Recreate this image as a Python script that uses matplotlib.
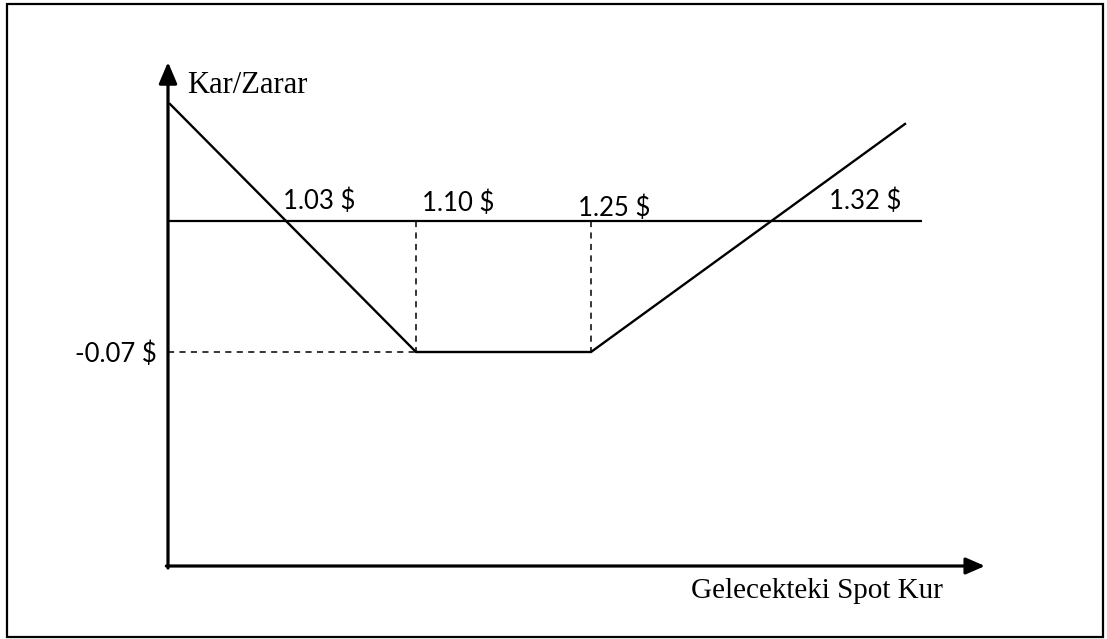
import numpy as np
import matplotlib
matplotlib.use("Agg")
import matplotlib.pyplot as plt
from matplotlib.patches import Rectangle

# kar/zarar profili (long strangle)
payoff_x = [0.968, 1.10, 1.25, 1.3714]
payoff_y = [0.062, -0.07, -0.07, 0.0514]
strikes = [1.10, 1.25]
breakevens = [1.03, 1.32]
max_loss = -0.07
strike_labels = ["1.10 $", "1.25 $"]
breakeven_labels = ["1.03 $", "1.32 $"]
loss_label = "-0.07 $"
y_title = "Kar/Zarar"
x_title = "Gelecekteki Spot Kur"

# the sketch is not drawn to scale on x: piecewise linear scale
scale_vals = [0.90, 0.968, 1.10, 1.25, 1.3714, 1.50]
scale_pos = [43.3, 170, 416, 591, 905, 1237.6]


def fwd(v):
    return np.interp(v, scale_vals, scale_pos)


def inv(p):
    return np.interp(p, scale_pos, scale_vals)


W, H = 1107, 639
fig = plt.figure(figsize=(W / 100, H / 100), dpi=100)
ax = fig.add_axes([168 / W, (H - 566) / H, (985 - 168) / W, (566 - 62) / H])
ax.set_xscale('function', functions=(fwd, inv))
ax.set_xlim(inv(168), inv(985))
k = 131.5 / 0.07
ax.set_ylim(-(566 - 220.5) / k, (220.5 - 62) / k)
ax.axis('off')

# outer frame
fig.patches.append(Rectangle((7 / W, 2 / H), (1103 - 7) / W, (636 - 3) / H,
                             transform=fig.transFigure, fill=False, lw=1.6, color='black'))

# axes arrows
ax.annotate('', xy=(0, 1), xytext=(0, -0.004), xycoords='axes fraction',
            arrowprops=dict(arrowstyle='-|>,head_length=1.3,head_width=0.55', lw=2.3,
                            color='black', shrinkA=0, shrinkB=0, mutation_scale=10),
            annotation_clip=False)
ax.annotate('', xy=(1, 0), xytext=(-0.002, 0), xycoords='axes fraction',
            arrowprops=dict(arrowstyle='-|>,head_length=1.15,head_width=0.5', lw=2.3,
                            color='black', shrinkA=0, shrinkB=0, mutation_scale=10),
            annotation_clip=False)

x0 = ax.get_xlim()[0]
# zero line
ax.plot([x0, 1.378], [0, 0], color='black', lw=1.6, solid_capstyle='butt')
# dashed guides
for s in strikes:
    ax.plot([s, s], [0, max_loss], color='black', lw=1.1, ls=(0, (4, 3.5)))
ax.plot([x0, strikes[0]], [max_loss, max_loss], color='black', lw=1.1, ls=(0, (4, 3.5)))
# payoff
ax.plot(payoff_x, payoff_y, color='black', lw=1.7, solid_joinstyle='miter')

sans = ['Lato', 'DejaVu Sans']
serif = ['Liberation Serif', 'DejaVu Serif']
lab_size = 18.5

for val, lab, off in zip(breakevens, breakeven_labels, [(-2.5, 11.5), (57, 11.5)]):
    ax.annotate(lab, xy=(val, 0), xytext=off, textcoords='offset pixels',
                ha='left', va='baseline', fontsize=lab_size, family=sans)
for val, lab, off in zip(strikes, strike_labels, [(5.7, 9.5), (-13, 4.5)]):
    ax.annotate(lab, xy=(val, 0), xytext=off, textcoords='offset pixels',
                ha='left', va='baseline', fontsize=lab_size, family=sans)
ax.annotate(loss_label, xy=(x0, max_loss), xytext=(-11, -10), textcoords='offset pixels',
            ha='right', va='baseline', fontsize=lab_size, family=sans)

ax.text((187 - 168) / 817, (566 - 93) / 504, y_title, transform=ax.transAxes,
        ha='left', va='baseline', fontsize=22, family=serif)
ax.text((943 - 168) / 817, (566 - 598) / 504, x_title, transform=ax.transAxes,
        ha='right', va='baseline', fontsize=21, family=serif)

fig.savefig('out.png', dpi=100)
